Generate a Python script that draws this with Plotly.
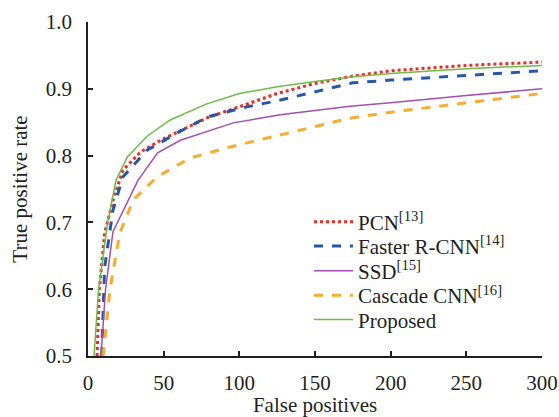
import plotly.graph_objects as go

# Data
names = ["PCN<sup>[13]</sup>", "Faster R-CNN<sup>[14]</sup>", "SSD<sup>[15]</sup>",
         "Cascade CNN<sup>[16]</sup>", "Proposed"]

pcn_x = [6, 7.5, 11, 16.5, 23, 35, 48, 61, 80, 100, 125, 150, 175, 200, 250, 300]
pcn_y = [0.5, 0.6, 0.684, 0.733, 0.778, 0.806, 0.823, 0.837, 0.858, 0.873, 0.893, 0.908, 0.919, 0.927, 0.935, 0.94]

frcnn_x = [9, 10.2, 11, 16.5, 23, 39, 59, 79, 105, 125, 150, 175, 200, 250, 300]
frcnn_y = [0.5, 0.6, 0.633, 0.718, 0.768, 0.808, 0.834, 0.858, 0.873, 0.882, 0.895, 0.909, 0.913, 0.92, 0.927]

ssd_x = [8.6, 11.6, 16.5, 33, 46, 61, 96, 127, 173, 200, 250, 300]
ssd_y = [0.5, 0.6, 0.686, 0.763, 0.804, 0.823, 0.849, 0.861, 0.874, 0.879, 0.89, 0.9]

cascade_x = [10, 12, 14.5, 21, 30, 45.6, 67, 94, 127, 173, 200, 250, 300]
cascade_y = [0.5, 0.55, 0.6, 0.684, 0.734, 0.768, 0.796, 0.813, 0.831, 0.856, 0.865, 0.879, 0.893]

prop_x = [4, 7, 13, 18.5, 26, 39, 54, 78, 100, 125, 150, 175, 200, 250, 300]
prop_y = [0.5, 0.6, 0.7, 0.763, 0.798, 0.829, 0.853, 0.877, 0.893, 0.903, 0.911, 0.918, 0.923, 0.93, 0.935]

x_ticks = [0, 50, 100, 150, 200, 250, 300]
y_ticks = [0.5, 0.6, 0.7, 0.8, 0.9, 1.0]

series = [
    (pcn_x, pcn_y, dict(color="#ee2a24", width=3, dash="dot")),
    (frcnn_x, frcnn_y, dict(color="#2457a8", width=3, dash="dash")),
    (ssd_x, ssd_y, dict(color="#a24fb0", width=1.5)),
    (cascade_x, cascade_y, dict(color="#f8ab2e", width=3, dash="dash")),
    (prop_x, prop_y, dict(color="#6cbd45", width=1.5)),
]

SERIF = "Liberation Serif"
fig = go.Figure()
legend_ids = ["legend", "legend2", "legend3", "legend4", "legend5"]
legend_y = [0.401, 0.328, 0.254, 0.181, 0.108]
for name, lid, (xs, ys, line) in zip(names, legend_ids, series):
    fig.add_trace(go.Scatter(x=xs, y=ys, mode="lines", name=name, line=line, legend=lid))

legend_common = dict(x=(309 - 88) / 454, xanchor="left", yanchor="middle",
                     bgcolor="rgba(0,0,0,0)", font=dict(family=SERIF, size=21, color="#231f20"),
                     itemwidth=39, borderwidth=0)
layout_legends = {lid: dict(legend_common, y=ly) for lid, ly in zip(legend_ids, legend_y)}

fig.update_layout(
    width=559, height=417,
    margin=dict(l=88, r=17, t=22, b=61),
    plot_bgcolor="white", paper_bgcolor="white",
    font=dict(family=SERIF, size=21, color="#231f20"),
    showlegend=True,
    **layout_legends,
)
fig.update_xaxes(
    range=[0, 300], tickvals=x_ticks, ticks="inside", ticklen=5, tickwidth=1.5,
    tickcolor="#231f20", showline=True, linecolor="#231f20", linewidth=1.5,
    showgrid=False, zeroline=False, ticklabelstandoff=7,
    tickfont=dict(family=SERIF, size=21),
    title=dict(text="False positives", standoff=6, font=dict(family=SERIF, size=21)),
    automargin=False,
)
fig.update_yaxes(
    range=[0.5, 1.0], tickvals=y_ticks, tickformat=".1f", ticks="inside", ticklen=5,
    tickwidth=1.5, tickcolor="#231f20", showline=True, linecolor="#231f20",
    linewidth=1.5, showgrid=False, zeroline=False, ticklabelstandoff=10,
    tickfont=dict(family=SERIF, size=21),
    title=dict(text="True positive rate", standoff=12, font=dict(family=SERIF, size=21)),
    automargin=False,
)

fig.write_html("out.html", config={"displayModeBar": False},
               post_script="document.body.style.margin='0';")
